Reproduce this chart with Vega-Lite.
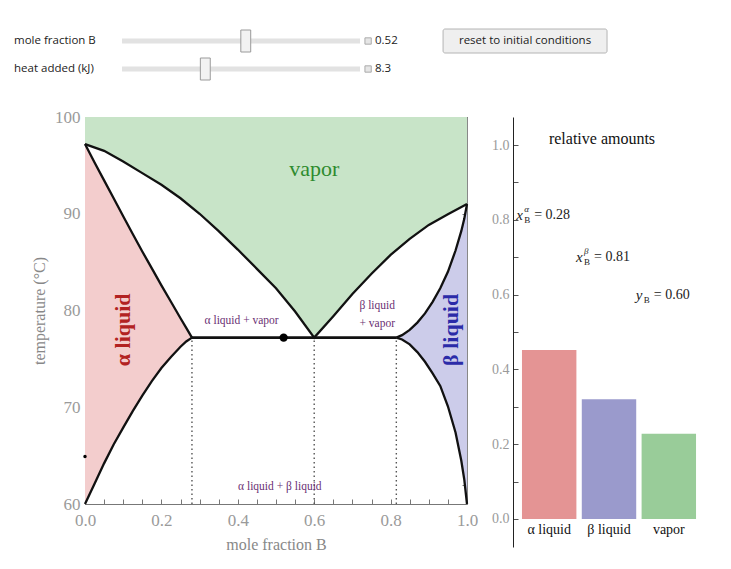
{
  "$schema": "https://vega.github.io/schema/vega-lite/v6.json",
  "background": "white",
  "padding": {"left": 14, "top": 27, "right": 10, "bottom": 5},
  "config": {
    "view": {"stroke": null},
    "font": "Liberation Serif",
    "axis": {"labelFont": "Liberation Serif", "titleFont": "Liberation Serif", "grid": false}
  },
  "datasets": {
    "sliders": [
      {"name": "mole fraction B", "pos": 0.52, "val": "0.52"},
      {"name": "heat added (kJ)", "pos": 0.35, "val": "8.3"}
    ],
    "dew": [
      {"x": 0, "T": 97.2}, {"x": 0.05, "T": 96.5}, {"x": 0.1, "T": 95.4}, {"x": 0.15, "T": 94.2},
      {"x": 0.2, "T": 93.0}, {"x": 0.25, "T": 91.6}, {"x": 0.3, "T": 90.0}, {"x": 0.35, "T": 88.2},
      {"x": 0.4, "T": 86.3}, {"x": 0.45, "T": 84.3}, {"x": 0.5, "T": 82.3}, {"x": 0.55, "T": 79.9},
      {"x": 0.6, "T": 77.2}, {"x": 0.65, "T": 79.4}, {"x": 0.7, "T": 81.7}, {"x": 0.75, "T": 83.8},
      {"x": 0.8, "T": 85.75}, {"x": 0.85, "T": 87.4}, {"x": 0.9, "T": 88.85}, {"x": 0.95, "T": 89.95},
      {"x": 1.0, "T": 91.0}
    ],
    "alpha": [
      {"x": 0, "lo": 60, "hi": 97.2}, {"x": 0.025, "lo": 62.1, "hi": 95.3}, {"x": 0.05, "lo": 64.2, "hi": 93.45},
      {"x": 0.075, "lo": 66.15, "hi": 91.6}, {"x": 0.1, "lo": 67.9, "hi": 89.75}, {"x": 0.125, "lo": 69.6, "hi": 87.9},
      {"x": 0.15, "lo": 71.2, "hi": 86.1}, {"x": 0.175, "lo": 72.7, "hi": 84.35}, {"x": 0.2, "lo": 74.05, "hi": 82.6},
      {"x": 0.225, "lo": 75.2, "hi": 80.9}, {"x": 0.25, "lo": 76.25, "hi": 79.2}, {"x": 0.265, "lo": 76.8, "hi": 78.2},
      {"x": 0.28, "lo": 77.2, "hi": 77.2}
    ],
    "beta": [
      {"x": 0.815, "lo": 77.2, "hi": 77.2}, {"x": 0.83, "lo": 77.0, "hi": 77.45}, {"x": 0.85, "lo": 76.5, "hi": 78.0},
      {"x": 0.87, "lo": 75.7, "hi": 78.75}, {"x": 0.89, "lo": 74.7, "hi": 79.7}, {"x": 0.91, "lo": 73.5, "hi": 80.9},
      {"x": 0.93, "lo": 72.2, "hi": 82.3}, {"x": 0.95, "lo": 70.1, "hi": 84.0}, {"x": 0.97, "lo": 67.4, "hi": 86.2},
      {"x": 0.985, "lo": 64.5, "hi": 88.2}, {"x": 0.993, "lo": 62.5, "hi": 89.5}, {"x": 1.0, "lo": 60, "hi": 91.0}
    ],
    "tie": [{"x": 0.28, "T": 77.2}, {"x": 0.815, "T": 77.2}],
    "dots": [{"x": 0.28, "lo": 60, "hi": 77.2}, {"x": 0.6, "lo": 60, "hi": 77.2}, {"x": 0.815, "lo": 60, "hi": 77.2}],
    "amounts": [
      {"phase": "α liquid", "amt": 0.452},
      {"phase": "β liquid", "amt": 0.32},
      {"phase": "vapor", "amt": 0.228}
    ],
    "ann": [
      {"phase": "α liquid", "y": 0.813, "v": "x", "sup": "α", "sub": "B", "val": "=  0.28"},
      {"phase": "β liquid", "y": 0.70, "v": "x", "sup": "β", "sub": "B", "val": "=  0.81"},
      {"phase": "vapor", "y": 0.60, "v": "y", "sup": "", "sub": "B", "val": "=  0.60"}
    ]
  },
  "spacing": 34,
  "bounds": "flush",
  "vconcat": [
    {
      "width": 620,
      "height": 56,
      "encoding": {
        "y": {"field": "name", "type": "nominal", "sort": ["mole fraction B", "heat added (kJ)"], "scale": {"type": "point", "padding": 0.5}, "axis": null}
      },
      "layer": [
        {
          "data": {"name": "sliders"},
          "mark": {"type": "rule", "color": "#e2e2e2", "strokeWidth": 5},
          "encoding": {
            "x": {"datum": 0, "type": "quantitative", "scale": {"domain": [-0.1555, 2.4496], "nice": false, "zero": false}, "axis": null},
            "x2": {"datum": 1}
          }
        },
        {
          "data": {"name": "sliders"},
          "mark": {"type": "point", "shape": "M-0.45,-1H0.45V1H-0.45Z", "size": 484, "filled": true, "fill": "#f2f2f2", "stroke": "#9a9a9a", "strokeWidth": 1, "opacity": 1},
          "encoding": {"x": {"field": "pos", "type": "quantitative"}}
        },
        {
          "data": {"name": "sliders"},
          "mark": {"type": "point", "shape": "square", "size": 40, "filled": true, "fill": "#e6e6e6", "stroke": "#aaaaaa", "strokeWidth": 1, "opacity": 1},
          "encoding": {"x": {"datum": 1.034, "type": "quantitative"}}
        },
        {
          "data": {"name": "sliders"},
          "mark": {"type": "text", "align": "left", "baseline": "middle", "font": "Open Sans", "fontSize": 11.5, "color": "#222"},
          "encoding": {"x": {"datum": 1.063, "type": "quantitative"}, "text": {"field": "val"}}
        },
        {
          "data": {"name": "sliders"},
          "mark": {"type": "text", "align": "left", "baseline": "middle", "font": "Open Sans", "fontSize": 11.5, "color": "#222"},
          "encoding": {"x": {"datum": -0.4538, "type": "quantitative"}, "text": {"field": "name"}}
        },
        {
          "data": {"values": [{"name": "mole fraction B", "t": "reset to initial conditions"}]},
          "mark": {"type": "rect", "height": 24, "fill": "#efefef", "stroke": "#b4b4b4", "strokeWidth": 1, "cornerRadius": 2},
          "encoding": {"x": {"datum": 1.349, "type": "quantitative"}, "x2": {"datum": 2.038}}
        },
        {
          "data": {"values": [{"name": "mole fraction B", "t": "reset to initial conditions"}]},
          "mark": {"type": "text", "align": "center", "baseline": "middle", "font": "Open Sans", "fontSize": 11.5, "color": "#222"},
          "encoding": {"x": {"datum": 1.6935, "type": "quantitative"}, "text": {"field": "t"}}
        }
      ]
    },
    {
      "bounds": "flush",
      "spacing": 46,
      "hconcat": [
        {
          "width": 382,
          "height": 387,
          "encoding": {
            "x": {"field": "x", "type": "quantitative", "scale": {"domain": [0, 1], "nice": false, "zero": false}, "axis": null}
          },
          "layer": [
            {
              "data": {"name": "dew"},
              "mark": {"type": "area", "color": "#c8e4c8", "opacity": 1},
              "encoding": {
                "x": {
                  "field": "x", "type": "quantitative",
                  "axis": {
                    "orient": "bottom",
                    "values": [0, 0.05, 0.1, 0.15, 0.2, 0.25, 0.3, 0.35, 0.4, 0.45, 0.5, 0.55, 0.6, 0.65, 0.7, 0.75, 0.8, 0.85, 0.9, 0.95, 1],
                    "labelExpr": "abs(datum.value*5 - round(datum.value*5)) < 0.001 ? format(datum.value, '.1f') : ''",
                    "tickSize": -5, "tickColor": "#777", "domainColor": "#777",
                    "labelPadding": 13, "labelFontSize": 17, "labelColor": "#9a9a9a", "labelFlush": false, "labelOverlap": false,
                    "title": "mole fraction B", "titleFontSize": 16, "titleFontWeight": "normal", "titleColor": "#888", "titlePadding": 8
                  }
                },
                "y": {
                  "field": "T", "type": "quantitative",
                  "scale": {"domain": [60, 100], "nice": false, "zero": false},
                  "axis": {
                    "orient": "left",
                    "values": [60, 62, 64, 66, 68, 70, 72, 74, 76, 78, 80, 82, 84, 86, 88, 90, 92, 94, 96, 98, 100],
                    "labelExpr": "datum.value % 10 === 0 ? datum.label : ''",
                    "tickSize": -5, "tickColor": "#777", "domainColor": "#777",
                    "labelPadding": 10, "labelFontSize": 17, "labelColor": "#9a9a9a", "labelFlush": false, "labelOverlap": false,
                    "title": "temperature (°C)", "titleFontSize": 16, "titleFontWeight": "normal", "titleColor": "#888", "titlePadding": 7
                  }
                },
                "y2": {"datum": 100}
              }
            },
            {
              "data": {"name": "alpha"},
              "mark": {"type": "area", "color": "#f3cdcd", "opacity": 1},
              "encoding": {
                "x": {
                  "field": "x", "type": "quantitative",
                  "axis": {
                    "orient": "top", "labels": false, "title": null,
                    "values": [0, 0.05, 0.1, 0.15, 0.2, 0.25, 0.3, 0.35, 0.4, 0.45, 0.5, 0.55, 0.6, 0.65, 0.7, 0.75, 0.8, 0.85, 0.9, 0.95, 1],
                    "tickSize": -5, "tickColor": "#777", "domainColor": "#333"
                  }
                },
                "y": {
                  "field": "lo", "type": "quantitative",
                  "axis": {
                    "orient": "right", "labels": false, "title": null,
                    "values": [60, 62, 64, 66, 68, 70, 72, 74, 76, 78, 80, 82, 84, 86, 88, 90, 92, 94, 96, 98, 100],
                    "tickSize": -5, "tickColor": "#777", "domainColor": "#888"
                  }
                },
                "y2": {"field": "hi"}
              }
            },
            {
              "data": {"name": "beta"},
              "mark": {"type": "area", "color": "#ccccea", "opacity": 1},
              "encoding": {
                "y": {"field": "lo", "type": "quantitative", "axis": null},
                "y2": {"field": "hi"}
              }
            },
            {
              "data": {"name": "dots"},
              "mark": {"type": "rule", "color": "#555", "strokeWidth": 1.4, "strokeDash": [1.5, 3]},
              "encoding": {
                "y": {"field": "lo", "type": "quantitative", "axis": null},
                "y2": {"field": "hi"}
              }
            },
            {
              "data": {"name": "dew"},
              "mark": {"type": "line", "color": "#111", "strokeWidth": 2.3},
              "encoding": {"y": {"field": "T", "type": "quantitative", "axis": null}}
            },
            {
              "data": {"name": "alpha"},
              "mark": {"type": "line", "color": "#111", "strokeWidth": 2.3},
              "encoding": {"y": {"field": "lo", "type": "quantitative", "axis": null}}
            },
            {
              "data": {"name": "alpha"},
              "mark": {"type": "line", "color": "#111", "strokeWidth": 2.3},
              "encoding": {"y": {"field": "hi", "type": "quantitative", "axis": null}}
            },
            {
              "data": {"name": "beta"},
              "mark": {"type": "line", "color": "#111", "strokeWidth": 2.3},
              "encoding": {"y": {"field": "lo", "type": "quantitative", "axis": null}}
            },
            {
              "data": {"name": "beta"},
              "mark": {"type": "line", "color": "#111", "strokeWidth": 2.3},
              "encoding": {"y": {"field": "hi", "type": "quantitative", "axis": null}}
            },
            {
              "data": {"name": "tie"},
              "mark": {"type": "line", "color": "#111", "strokeWidth": 2.8},
              "encoding": {"y": {"field": "T", "type": "quantitative", "axis": null}}
            },
            {
              "data": {"values": [{"x": 0.52, "T": 77.2}]},
              "mark": {"type": "point", "filled": true, "color": "#000", "size": 70, "opacity": 1},
              "encoding": {"y": {"field": "T", "type": "quantitative", "axis": null}}
            },
            {
              "data": {"values": [{"x": 0, "T": 64.9}]},
              "mark": {"type": "point", "filled": true, "color": "#000", "size": 12, "opacity": 1},
              "encoding": {"y": {"field": "T", "type": "quantitative", "axis": null}}
            },
            {
              "data": {"values": [{"x": 0.6, "T": 94.6, "t": "vapor"}]},
              "mark": {"type": "text", "font": "Liberation Serif", "fontSize": 22, "color": "#2e8b2e", "baseline": "middle"},
              "encoding": {"y": {"field": "T", "type": "quantitative", "axis": null}, "text": {"field": "t"}}
            },
            {
              "data": {"values": [{"x": 0.1, "T": 78, "t": "α liquid"}]},
              "mark": {"type": "text", "font": "Liberation Serif", "fontSize": 22, "fontWeight": "bold", "color": "#b22222", "angle": 270, "baseline": "middle"},
              "encoding": {"y": {"field": "T", "type": "quantitative", "axis": null}, "text": {"field": "t"}}
            },
            {
              "data": {"values": [{"x": 0.957, "T": 78, "t": "β liquid"}]},
              "mark": {"type": "text", "font": "Liberation Serif", "fontSize": 22, "fontWeight": "bold", "color": "#2b2ba8", "angle": 270, "baseline": "middle"},
              "encoding": {"y": {"field": "T", "type": "quantitative", "axis": null}, "text": {"field": "t"}}
            },
            {
              "data": {"values": [
                {"x": 0.41, "T": 78.9, "t": "α liquid + vapor"},
                {"x": 0.765, "T": 80.5, "t": "β liquid"},
                {"x": 0.765, "T": 78.6, "t": "+ vapor"},
                {"x": 0.51, "T": 61.8, "t": "α liquid + β liquid"}
              ]},
              "mark": {"type": "text", "font": "Liberation Serif", "fontSize": 11.5, "color": "#6a2f73", "baseline": "middle"},
              "encoding": {"y": {"field": "T", "type": "quantitative", "axis": null}, "text": {"field": "t"}}
            }
          ],
          "resolve": {"axis": {"x": "independent", "y": "independent"}}
        },
        {
          "width": 192,
          "height": 430,
          "encoding": {
            "x": {"field": "phase", "type": "nominal", "sort": ["α liquid", "β liquid", "vapor"], "scale": {"domain": ["α liquid", "β liquid", "vapor"], "paddingInner": 0.09, "paddingOuter": 0.15}, "axis": null}
          },
          "layer": [
            {
              "data": {"name": "amounts"},
              "mark": {"type": "bar", "opacity": 1},
              "encoding": {
                "y": {
                  "field": "amt", "type": "quantitative",
                  "scale": {"domain": [-0.075, 1.075], "nice": false, "zero": false},
                  "axis": {
                    "orient": "left", "title": null,
                    "values": [0, 0.05, 0.1, 0.15, 0.2, 0.25, 0.3, 0.35, 0.4, 0.45, 0.5, 0.55, 0.6, 0.65, 0.7, 0.75, 0.8, 0.85, 0.9, 0.95, 1],
                    "labelExpr": "abs(datum.value*5 - round(datum.value*5)) < 0.001 ? format(datum.value, '.1f') : ''",
                    "tickSize": -5, "tickColor": "#555", "domainColor": "#222",
                    "labelPadding": 9, "labelFontSize": 14, "labelColor": "#9a9a9a", "labelFlush": false, "labelOverlap": false
                  }
                },
                "y2": {"datum": 0},
                "color": {"field": "phase", "type": "nominal", "scale": {"domain": ["α liquid", "β liquid", "vapor"], "range": ["#e49494", "#9a9acc", "#99cc99"]}, "legend": null}
              }
            },
            {
              "data": {"name": "amounts"},
              "mark": {"type": "text", "font": "Liberation Serif", "fontSize": 14, "color": "#111", "baseline": "middle"},
              "encoding": {"y": {"datum": -0.03}, "text": {"field": "phase"}}
            },
            {
              "data": {"values": [{"t": "relative amounts"}]},
              "mark": {"type": "text", "font": "Liberation Serif", "fontSize": 16, "color": "#111", "baseline": "middle", "dx": -7},
              "encoding": {"x": {"datum": "β liquid", "type": "nominal"}, "y": {"datum": 1.016}, "text": {"field": "t"}}
            },
            {
              "data": {"name": "ann"},
              "mark": {"type": "text", "font": "Liberation Serif", "fontSize": 15, "fontStyle": "italic", "color": "#222", "align": "left", "baseline": "middle", "dx": -33},
              "encoding": {"y": {"field": "y", "type": "quantitative"}, "text": {"field": "v"}}
            },
            {
              "data": {"name": "ann"},
              "mark": {"type": "text", "font": "Liberation Serif", "fontSize": 9, "fontStyle": "italic", "color": "#222", "align": "left", "baseline": "middle", "dx": -25, "dy": -6},
              "encoding": {"y": {"field": "y", "type": "quantitative"}, "text": {"field": "sup"}}
            },
            {
              "data": {"name": "ann"},
              "mark": {"type": "text", "font": "Liberation Serif", "fontSize": 9, "color": "#222", "align": "left", "baseline": "middle", "dx": -25, "dy": 5},
              "encoding": {"y": {"field": "y", "type": "quantitative"}, "text": {"field": "sub"}}
            },
            {
              "data": {"name": "ann"},
              "mark": {"type": "text", "font": "Liberation Serif", "fontSize": 14, "color": "#222", "align": "left", "baseline": "middle", "dx": -15},
              "encoding": {"y": {"field": "y", "type": "quantitative"}, "text": {"field": "val"}}
            }
          ]
        }
      ]
    }
  ]
}
